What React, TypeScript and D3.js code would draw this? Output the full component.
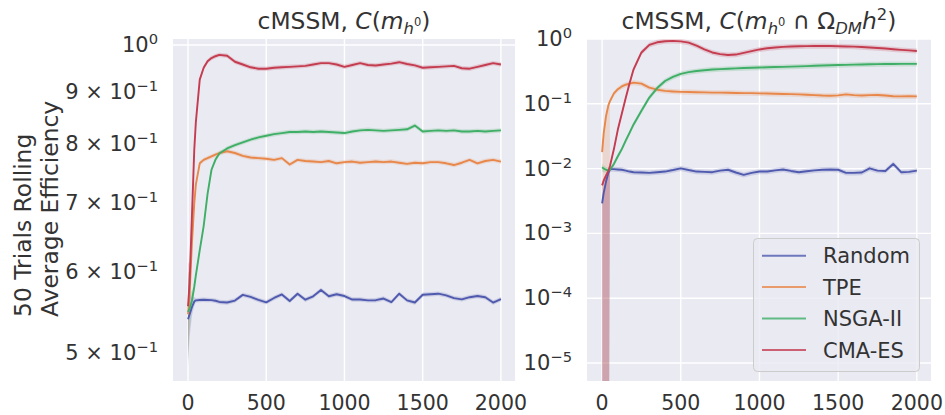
import React from "react";
import * as d3 from "d3";

// ---------- data ----------
const trials = [
  0, 10, 25, 40, 50, 75, 100, 125, 150, 175, 200, 250, 300, 350, 400, 450, 500,
  550, 600, 650, 700, 750, 800, 850, 900, 950, 1000, 1050, 1100, 1150, 1200,
  1250, 1300, 1350, 1400, 1450, 1500, 1550, 1600, 1650, 1700, 1750, 1800, 1850,
  1900, 1950, 2000,
];

// left panel: C(m_h0)
const randomEff = [
  0.539, 0.545, 0.554, 0.561, 0.5625, 0.563, 0.5632, 0.563, 0.5628, 0.562, 0.5605,
  0.5598, 0.5622, 0.5695, 0.567, 0.563, 0.56, 0.5655, 0.57, 0.5617, 0.571, 0.5633,
  0.5676, 0.5757, 0.5677, 0.5703, 0.568, 0.5635, 0.5636, 0.5625, 0.5627, 0.5648,
  0.5603, 0.571, 0.5625, 0.5598, 0.5697, 0.5703, 0.571, 0.5689, 0.5653, 0.5638,
  0.5665, 0.568, 0.5664, 0.5597, 0.564,
];
const tpeEff = [
  0.545, 0.57, 0.64, 0.7, 0.73, 0.766, 0.772, 0.775, 0.778, 0.781, 0.784, 0.787,
  0.784, 0.779, 0.776, 0.775, 0.774, 0.772, 0.775, 0.764, 0.772, 0.77, 0.769,
  0.768, 0.77, 0.766, 0.768, 0.769, 0.767, 0.768, 0.769, 0.768, 0.769, 0.767,
  0.765, 0.767, 0.766, 0.768, 0.768, 0.766, 0.763, 0.767, 0.772, 0.766, 0.77,
  0.772, 0.769,
];
const nsgaEff = [
  0.548, 0.552, 0.562, 0.58, 0.595, 0.63, 0.665, 0.715, 0.755, 0.772, 0.783,
  0.792, 0.798, 0.803, 0.808, 0.812, 0.815, 0.818, 0.82, 0.822, 0.822, 0.823,
  0.822, 0.823, 0.822, 0.821, 0.82, 0.823, 0.825, 0.826, 0.825, 0.824, 0.825,
  0.826, 0.827, 0.834, 0.823, 0.824, 0.825, 0.824, 0.825, 0.823, 0.823, 0.824,
  0.823, 0.824, 0.825,
];
const cmaesEff = [
  0.555, 0.585, 0.68, 0.79, 0.84, 0.925, 0.95, 0.964, 0.971, 0.975, 0.978, 0.976,
  0.963, 0.957, 0.951, 0.948, 0.948, 0.95, 0.951, 0.952, 0.953, 0.954, 0.957,
  0.96, 0.96, 0.957, 0.952, 0.956, 0.96, 0.956, 0.955, 0.957, 0.959, 0.962,
  0.958, 0.955, 0.95, 0.951, 0.952, 0.953, 0.954, 0.949, 0.948, 0.952, 0.956,
  0.96, 0.957,
];

// right panel: C(m_h0 ∩ Ω_DM h^2)
const randomEffDM = [
  0.0029, 0.0042, 0.0063, 0.0086, 0.0098, 0.0098, 0.0097, 0.0096, 0.0093, 0.009,
  0.0088, 0.0087, 0.0086, 0.0088, 0.009, 0.0095, 0.0101, 0.0095, 0.009, 0.0089,
  0.0088, 0.0093, 0.0096, 0.0087, 0.008, 0.0086, 0.009, 0.009, 0.0094, 0.0097,
  0.0092, 0.0088, 0.0091, 0.0094, 0.0096, 0.0097, 0.0096, 0.0086, 0.0086,
  0.0087, 0.0101, 0.0093, 0.0092, 0.0118, 0.0088, 0.0089, 0.0093,
];
const tpeEffDM = [
  0.018, 0.035, 0.065, 0.095, 0.11, 0.145, 0.168, 0.185, 0.197, 0.205, 0.212,
  0.205, 0.178, 0.165, 0.158, 0.155, 0.153, 0.152, 0.151, 0.15, 0.149, 0.149,
  0.148, 0.147, 0.146, 0.146, 0.145, 0.144, 0.143, 0.142, 0.141, 0.14, 0.138,
  0.136, 0.134, 0.133, 0.135, 0.14, 0.136, 0.134, 0.136, 0.137, 0.134, 0.131,
  0.13, 0.131, 0.13,
];
const nsgaEffDM = [
  0.0105, 0.01, 0.0096, 0.0094, 0.0096, 0.0118, 0.0155, 0.02, 0.027, 0.036,
  0.048, 0.078, 0.125, 0.175, 0.225, 0.26, 0.29, 0.308, 0.32, 0.33, 0.338,
  0.343, 0.348, 0.352, 0.357, 0.36, 0.363, 0.366, 0.369, 0.372, 0.375, 0.378,
  0.382, 0.386, 0.39, 0.393, 0.396, 0.399, 0.402, 0.405, 0.407, 0.409, 0.411,
  0.412, 0.413, 0.413, 0.413,
];
const cmaesEffDM = [
  0.0055, 0.0065, 0.0078, 0.0092, 0.011, 0.02, 0.04, 0.07, 0.123, 0.21, 0.34,
  0.62, 0.81, 0.89, 0.925, 0.935, 0.92, 0.88, 0.79, 0.69, 0.62, 0.585, 0.567,
  0.575, 0.61, 0.65, 0.69, 0.72, 0.74, 0.755, 0.765, 0.772, 0.777, 0.78, 0.78,
  0.778, 0.773, 0.768, 0.762, 0.752, 0.74, 0.727, 0.712, 0.695, 0.68, 0.667,
  0.654,
];

const methods = ["Random", "TPE", "NSGA-II", "CMA-ES"];
const colors = ["#4f5aae", "#e8874a", "#3fae66", "#c43c50"];

const xTicks = [0, 500, 1000, 1500, 2000];
const leftYTicks = [1, 0.9, 0.8, 0.7, 0.6, 0.5];
const leftYLabels = [
  ["10", "0"],
  ["9 × 10", "−1"],
  ["8 × 10", "−1"],
  ["7 × 10", "−1"],
  ["6 × 10", "−1"],
  ["5 × 10", "−1"],
];
const leftGrid = [1];
const rightYTicks = [1, 0.1, 0.01, 0.001, 0.0001, 0.00001];
const rightYLabels = [
  ["10", "0"],
  ["10", "−1"],
  ["10", "−2"],
  ["10", "−3"],
  ["10", "−4"],
  ["10", "−5"],
];
const rightGrid = [1, 0.1, 0.01, 0.001, 0.0001, 0.00001];

// confidence band relative half-widths
const earlySpreadLeft = [0.1, 0.05, 0.02, 0.01];
const earlySpreadRight = [0.15, 0.12, 0.1];

// ---------- style ----------
const FONT = "DejaVu Sans, Verdana, sans-serif";
const TXT = "#333333";
const AXBG = "#EAEAF2";
const TICK_FS = 21;

type PanelProps = {
  id: string;
  left: number;
  right: number;
  top: number;
  bottom: number;
  xDomain: [number, number];
  yDomain: [number, number];
  series: number[][];
  yTicks: number[];
  yLabels: string[][];
  grid: number[];
  earlySpread: number[];
  baseSpread: number;
  floorSeries: number[];
  floorUntil: number;
};

function Panel(p: PanelProps) {
  const x = d3.scaleLinear().domain(p.xDomain).range([p.left, p.right]);
  const y = d3.scaleLog().domain(p.yDomain).range([p.bottom, p.top]);
  const spread = (i: number) =>
    i < p.earlySpread.length ? p.earlySpread[i] : p.baseSpread;

  const bands = p.series.map((vals, k) => {
    const area = d3
      .area<number>()
      .x((_, i) => x(trials[i]))
      .y0((v, i) => {
        let lo = v * (1 - Math.min(spread(i), 0.5));
        if (p.floorSeries.includes(k) && trials[i] <= p.floorUntil) lo = 1e-9;
        return y(lo);
      })
      .y1((v, i) => y(v * (1 + spread(i))));
    return area(vals) || "";
  });
  const line = d3
    .line<number>()
    .x((_, i) => x(trials[i]))
    .y((v) => y(v));

  const w = p.right - p.left;
  const h = p.bottom - p.top;
  return (
    <g>
      <defs>
        <clipPath id={p.id}>
          <rect x={p.left} y={p.top} width={w} height={h} />
        </clipPath>
      </defs>
      <rect x={p.left} y={p.top} width={w} height={h} fill={AXBG} />
      {xTicks.map((t) => (
        <line
          key={"gx" + t}
          x1={x(t)}
          x2={x(t)}
          y1={p.top}
          y2={p.bottom}
          stroke="#fff"
          strokeWidth={1.4}
        />
      ))}
      {p.grid.map((t) => (
        <line
          key={"gy" + t}
          x1={p.left}
          x2={p.right}
          y1={y(t)}
          y2={y(t)}
          stroke="#fff"
          strokeWidth={1.4}
        />
      ))}
      <g clipPath={`url(#${p.id})`}>
        {bands.map((d, k) => (
          <path key={"b" + k} d={d} fill={colors[k]} fillOpacity={0.2} stroke="none" />
        ))}
        {p.series.map((vals, k) => (
          <path
            key={"l" + k}
            d={line(vals) || ""}
            fill="none"
            stroke={colors[k]}
            strokeWidth={1.9}
            strokeLinejoin="round"
          />
        ))}
      </g>
      {xTicks.map((t) => (
        <text
          key={"tx" + t}
          x={x(t)}
          y={410}
          textAnchor="middle"
          fontSize={20.5}
          fill={TXT}
        >
          {t}
        </text>
      ))}
      {p.yTicks.map((t, i) => (
        <text
          key={"ty" + t}
          x={p.left - 15}
          y={y(t) + 7}
          textAnchor="end"
          fontSize={TICK_FS}
          fill={TXT}
        >
          {p.yLabels[i][0]}
          <tspan dy={-8} fontSize={14.7}>
            {p.yLabels[i][1]}
          </tspan>
        </text>
      ))}
    </g>
  );
}

export default function App() {
  const top = 39;
  const bottom = 381;
  const xDomain: [number, number] = [-96, 2090];
  const leftYDomain: [number, number] = [Math.pow(10, -0.3288), Math.pow(10, 0.00587)];
  const rightYDomain: [number, number] = [Math.pow(10, -5.278), 1];
  const legendY = [255.7, 287, 318.5, 350];
  return (
    <svg
      width={945}
      height={415}
      style={{ position: "absolute", left: 0, top: 0 }}
      fontFamily={FONT}
    >
      <rect x={0} y={0} width={945} height={415} fill="#fff" />
      <Panel
        id="clipL"
        left={173}
        right={515}
        top={top}
        bottom={bottom}
        xDomain={xDomain}
        yDomain={leftYDomain}
        series={[randomEff, tpeEff, nsgaEff, cmaesEff]}
        yTicks={leftYTicks}
        yLabels={leftYLabels}
        grid={leftGrid}
        earlySpread={earlySpreadLeft}
        baseSpread={0.005}
        floorSeries={[]}
        floorUntil={-1}
      />
      <Panel
        id="clipR"
        left={587}
        right={931}
        top={top}
        bottom={bottom}
        xDomain={xDomain}
        yDomain={rightYDomain}
        series={[randomEffDM, tpeEffDM, nsgaEffDM, cmaesEffDM]}
        yTicks={rightYTicks}
        yLabels={rightYLabels}
        grid={rightGrid}
        earlySpread={earlySpreadRight}
        baseSpread={0.09}
        floorSeries={[0, 1, 3]}
        floorUntil={40}
      />

      {/* titles */}
      <text x={344} y={28.5} textAnchor="middle" fontSize={23.4} fill={TXT}>
        cMSSM, <tspan fontStyle="italic">C</tspan>(<tspan fontStyle="italic">m</tspan>
        <tspan fontStyle="italic" fontSize={16.4} dy={5}>h</tspan>
        <tspan fontSize={11.5} dy={-8}>0</tspan>
        <tspan dy={3}>)</tspan>
      </text>
      <text x={759} y={28.5} textAnchor="middle" fontSize={23.4} fill={TXT}>
        cMSSM, <tspan fontStyle="italic">C</tspan>(<tspan fontStyle="italic">m</tspan>
        <tspan fontStyle="italic" fontSize={16.4} dy={5}>h</tspan>
        <tspan fontSize={11.5} dy={-8}>0</tspan>
        <tspan dy={3}> ∩ Ω</tspan>
        <tspan fontStyle="italic" fontSize={16.4} dy={5}>DM</tspan>
        <tspan fontStyle="italic" dy={-5}>h</tspan>
        <tspan fontSize={16.4} dy={-9}>2</tspan>
        <tspan dy={9}>)</tspan>
      </text>

      {/* y label */}
      <text
        transform="translate(31,317) rotate(-90)"
        fontSize={23.4}
        fill={TXT}
        textAnchor="start"
      >
        50 Trials Rolling
      </text>
      <text
        transform="translate(58,317) rotate(-90)"
        fontSize={23.4}
        fill={TXT}
        textAnchor="start"
      >
        Average Efficiency
      </text>

      {/* legend */}
      <rect
        x={753.5}
        y={238.5}
        width={166}
        height={133}
        rx={4}
        fill={AXBG}
        fillOpacity={0.8}
        stroke="#cccccc"
        strokeWidth={1}
      />
      {methods.map((m, i) => (
        <g key={m}>
          <line
            x1={762}
            x2={806}
            y1={legendY[i]}
            y2={legendY[i]}
            stroke={colors[i]}
            strokeWidth={1.9}
            strokeOpacity={0.8}
          />
          <text x={823} y={legendY[i] + 7.5} fontSize={TICK_FS} fill={TXT}>
            {m}
          </text>
        </g>
      ))}
    </svg>
  );
}
